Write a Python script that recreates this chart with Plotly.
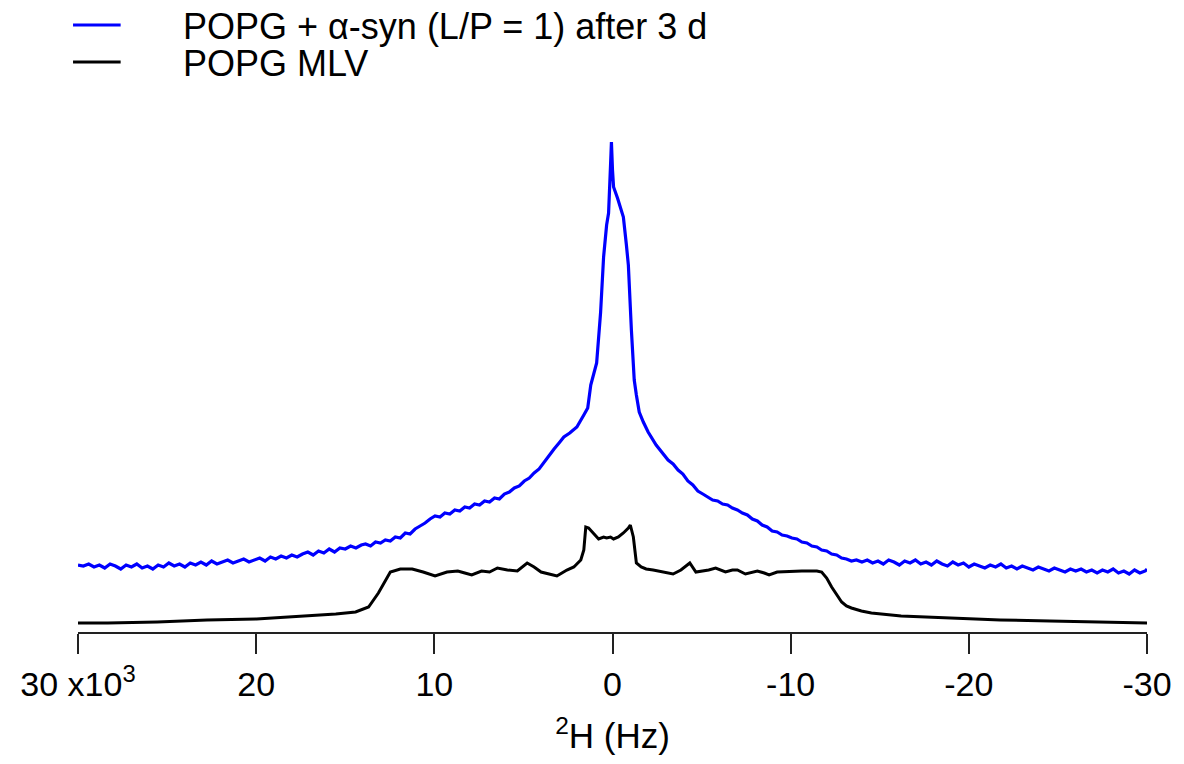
import plotly.graph_objects as go

# Frequency axis (kHz) and intensities (arbitrary units)
blue_khz = [30.0, 29.7, 29.4, 29.1, 28.8, 28.5, 28.2, 27.9, 27.6, 27.3, 27.0, 26.7, 26.4, 26.1, 25.8, 25.5,
            25.2, 24.9, 24.6, 24.3, 24.0, 23.7, 23.4, 23.1, 22.8, 22.5, 22.2, 21.9, 21.6, 21.3, 21.0, 20.7,
            20.4, 20.1, 19.8, 19.5, 19.2, 18.9, 18.6, 18.3, 18.0, 17.7, 17.4, 17.1, 16.8, 16.5, 16.2, 15.9,
            15.6, 15.3, 15.0, 14.7, 14.4, 14.1,
            13.86, 13.58, 13.30, 13.02, 12.75, 12.47, 12.19, 11.91, 11.63, 11.36, 11.08, 10.80, 10.52, 10.24,
            9.96, 9.68, 9.41, 9.13, 8.85, 8.57, 8.29, 8.02, 7.74, 7.46, 7.18, 6.90, 6.62, 6.35, 6.07, 5.79,
            5.51, 5.23, 4.95, 4.67, 4.40, 4.12, 3.84, 3.56, 3.28, 3.00, 2.73, 2.40, 2.00,
            1.61, 1.39, 1.22, 1.06, 0.89, 0.67, 0.50, 0.33, 0.22, 0.11, 0.06, 0.00, -0.06, -0.28, -0.50,
            -0.61, -0.78, -0.89, -1.06, -1.22, -1.34, -1.50, -1.73, -2.00,
            -2.45, -2.84, -3.12, -3.40, -3.68, -3.95, -4.23, -4.51, -4.79, -5.07, -5.34, -5.62, -5.90,
            -6.18, -6.46, -6.73, -7.01, -7.29, -7.57, -7.85, -8.13, -8.40, -8.68, -8.96, -9.24, -9.52,
            -9.80, -10.07, -10.35, -10.63, -10.91, -11.19, -11.47, -11.74, -12.02, -12.30, -12.58, -12.86,
            -13.13, -13.41, -13.69,
            -14.0, -14.3, -14.6, -14.9, -15.2, -15.5, -15.8, -16.1, -16.4, -16.7, -17.0, -17.3, -17.6,
            -17.9, -18.2, -18.5, -18.8, -19.1, -19.4, -19.7, -20.0, -20.3, -20.6, -20.9, -21.2, -21.5,
            -21.8, -22.1, -22.4, -22.7, -23.0, -23.3, -23.6, -23.9, -24.2, -24.5, -24.8, -25.1, -25.4,
            -25.7, -26.0, -26.3, -26.6, -26.9, -27.2, -27.5, -27.8, -28.1, -28.4, -28.7, -29.0, -29.3,
            -29.6, -29.9, -30.0]
blue_int = [67, 66, 68, 65, 67, 64, 68, 66, 63, 67, 65, 68, 64, 66, 63, 67,
            65, 69, 66, 68, 65, 69, 67, 70, 67, 71, 68, 70, 72, 69, 71, 73,
            70, 72, 74, 71, 75, 73, 76, 74, 77, 75, 78, 80, 77, 81, 79, 83,
            80, 84, 83, 86, 84, 87,
            88, 86, 90, 89, 92, 91, 95, 94, 99, 98, 103, 106, 109, 113,
            116, 115, 119, 118, 122, 121, 125, 124, 128, 127, 131, 130, 134, 133, 138, 140,
            144, 146, 151, 154, 159, 163, 170, 176, 183, 189, 195, 199, 205,
            217, 224, 247, 257, 269, 319, 375, 407, 419, 467, 490, 462, 445, 434, 422,
            415, 387, 367, 302, 252, 237, 220, 210, 200,
            187, 178, 172, 168, 162, 158, 151, 147, 141, 138, 135, 132, 131,
            128, 127, 124, 122, 119, 117, 113, 111, 107, 105, 101, 100, 97,
            96, 94, 93, 90, 89, 86, 85, 82, 81, 78, 77, 74,
            73, 71, 72,
            70, 72, 69, 71, 68, 72, 70, 67, 71, 69, 72, 68, 70,
            67, 71, 68, 66, 70, 67, 69, 65, 68, 66, 64, 67, 65,
            68, 64, 66, 63, 66, 64, 62, 65, 63, 61, 64, 62, 60,
            63, 61, 63, 60, 62, 59, 62, 60, 63, 59, 61, 58, 62,
            59, 61, 63]

black_khz = [30.0, 28.33, 25.55, 22.76, 19.98, 17.20, 15.53, 14.42, 13.69, 13.14, 12.75, 12.47, 11.91, 11.24,
             10.63, 9.96, 9.29, 8.68, 8.29, 7.90, 7.35, 6.90, 6.46, 5.90, 5.34, 5.06, 4.79, 4.40, 4.01, 3.56,
             3.12, 2.84, 2.56, 2.17, 1.78, 1.61, 1.50, 1.34, 1.06, 0.78, 0.50, 0.33, 0.11, -0.06, -0.33, -0.61,
             -0.89, -1.00, -1.17, -1.28, -1.34, -1.61, -1.89, -2.28, -2.84, -3.40, -3.84, -4.34, -4.68, -5.07,
             -5.40, -5.79, -6.34, -6.73, -7.01, -7.46, -7.85, -8.13, -8.52, -8.79, -9.24, -10.07, -10.63,
             -11.02, -11.47, -11.74, -12.02, -12.30, -12.58, -12.86, -13.13, -13.41, -13.97, -14.53, -16.20,
             -18.98, -21.76, -24.55, -27.33, -30.00]
black_int = [9, 9, 10, 12, 13, 16, 18, 20, 25, 39, 52, 60, 63, 63,
             60, 56, 60, 61, 59, 57, 61, 60, 64, 62, 61, 65, 69, 65, 60, 58,
             56, 59, 62, 65, 72, 82, 105, 104, 98, 93, 95, 94, 95, 93, 95, 99,
             104, 107, 95, 77, 69, 65, 63, 62, 60, 58, 62, 69, 60, 61,
             62, 64, 60, 62, 62, 58, 60, 61, 59, 57, 60, 61, 61,
             61, 61, 60, 54, 45, 37, 30, 26, 24, 21, 19, 16,
             14, 12, 11, 10, 9]

tick_vals = [30000, 20000, 10000, 0, -10000, -20000, -30000]
tick_text = ["30 x10<sup>3</sup>", "20", "10", "0", "-10", "-20", "-30"]
legend_names = ["POPG + α-syn (L/P = 1) after 3 d", "POPG MLV"]
colors = ["#0000ff", "#000000"]

FONT = "Liberation Sans, Arial, sans-serif"

fig = go.Figure()
fig.add_trace(go.Scatter(x=[v * 1000 for v in blue_khz], y=blue_int, mode="lines",
                         line=dict(color=colors[0], width=3.2), name=legend_names[0]))
fig.add_trace(go.Scatter(x=[v * 1000 for v in black_khz], y=black_int, mode="lines",
                         line=dict(color=colors[1], width=3), name=legend_names[1]))

# page body has an 8px margin, so the figure is laid out 8px smaller
OFF = 8
W, H = 1184 - OFF, 764 - OFF
ml, mr, mt, mb = 70 - OFF, 36, 132 - OFF, 132
pw, ph = W - ml - mr, H - mt - mb

def px2paper_x(px):
    return (px - OFF - ml) / pw

def py2paper_y(py):
    return (H - mb - (py - OFF)) / ph

for i, (name, col) in enumerate(zip(legend_names, colors)):
    yc = [25, 62][i]
    fig.add_shape(type="line", xref="paper", yref="paper",
                  x0=px2paper_x(65), x1=px2paper_x(113), y0=py2paper_y(yc), y1=py2paper_y(yc),
                  line=dict(color=col, width=3))
    fig.add_annotation(text=name, xref="paper", yref="paper", x=px2paper_x(174), y=py2paper_y(yc + 1),
                       xanchor="left", yanchor="middle", showarrow=False,
                       font=dict(family=FONT, size=36, color="black"))

fig.update_layout(
    width=W, height=H, margin=dict(l=ml, r=mr, t=mt, b=mb),
    paper_bgcolor="white", plot_bgcolor="white", showlegend=False,
    font=dict(family=FONT, size=34, color="black"),
    xaxis=dict(range=[30000, -30000], tickvals=tick_vals, ticktext=tick_text,
               showgrid=False, zeroline=False, showline=True, linecolor="#222222", linewidth=2,
               ticks="outside", ticklen=20, tickwidth=2, tickcolor="#222222",
               ticklabelstandoff=1, tickfont=dict(size=34),
               title=dict(text="<sup>2</sup>H (Hz)", standoff=22, font=dict(size=35))),
    yaxis=dict(range=[0, 500], visible=False),
)

fig.write_html("out.html")
